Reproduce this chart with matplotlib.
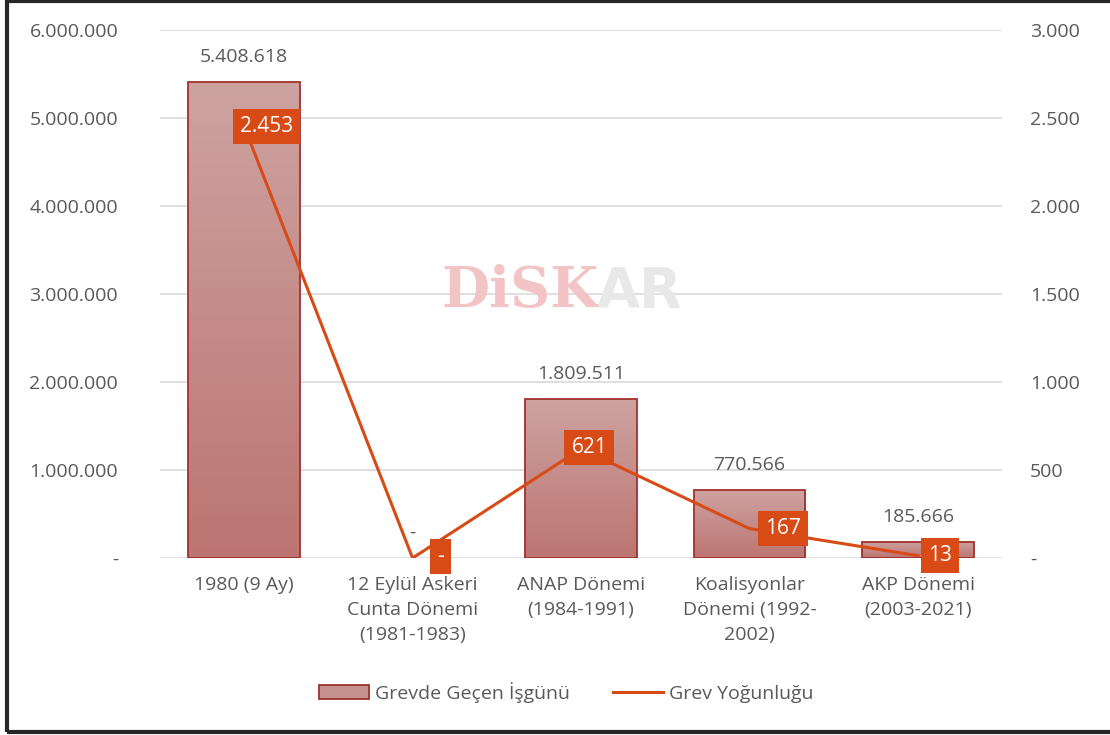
import numpy as np
import matplotlib.pyplot as plt
from matplotlib.patches import Rectangle
from matplotlib.lines import Line2D
from matplotlib.colors import LinearSegmentedColormap

plt.rcParams['font.family'] = ['Open Sans', 'DejaVu Sans']

categories = ['1980 (9 Ay)', '12 Eylül Askeri\nCunta Dönemi\n(1981-1983)',
              'ANAP Dönemi\n(1984-1991)', 'Koalisyonlar\nDönemi (1992-\n2002)',
              'AKP Dönemi\n(2003-2021)']
isgunu = [5408618, 0, 1809511, 770566, 185666]
yogunluk = [2453, 0, 621, 167, 13]

left_ticks = [0, 1000000, 2000000, 3000000, 4000000, 5000000, 6000000]
right_ticks = [0, 500, 1000, 1500, 2000, 2500, 3000]

GRAY = '#595959'
ORANGE = '#D84B16'
EDGE = '#A2302C'
FS = 14


def fmt(v):
    if v == 0:
        return '-'
    return '{:,}'.format(int(v)).replace(',', '.')


fig = plt.figure(figsize=(11.1, 7.35), dpi=100)
ax = fig.add_axes([0.144, 0.2408, 0.759, 0.7184])
ax2 = ax.twinx()

x = np.arange(len(categories))
width = 0.66
cmap = LinearSegmentedColormap.from_list('bar', ['#BC7572', '#CDA3A1'])
grad = np.linspace(0, 1, 256).reshape(-1, 1)
bars = ax.bar(x, isgunu, width, color='none', edgecolor=EDGE, linewidth=1.3, zorder=3)
for b in bars:
    h = b.get_height()
    if h <= 0:
        b.set_edgecolor('none')
        continue
    x0 = b.get_x()
    im = ax.imshow(grad, extent=[x0, x0 + width, 0, h], origin='lower',
                   cmap=cmap, aspect='auto', zorder=2)
    im.set_clip_path(b)

for xi, v in zip(x, isgunu):
    ax.annotate(fmt(v), (xi, v), xytext=(0, 18), textcoords='offset points',
                ha='center', va='center', fontsize=FS, color=GRAY)

ax.set_xlim(-0.5, 4.5)
ax.set_ylim(0, 6000000)
ax.set_yticks(left_ticks)
ax.set_yticklabels([fmt(t) for t in left_ticks])
ax.set_xticks(x)
ax.set_xticklabels(categories, fontsize=FS, color=GRAY, linespacing=1.5)
ax.tick_params(axis='both', length=0, labelsize=FS, labelcolor=GRAY)
ax.tick_params(axis='y', pad=30)
ax.tick_params(axis='x', pad=13)
ax.grid(axis='y', color='#D9D9D9', linewidth=1.2, zorder=0)
ax.set_axisbelow(True)
for s in ax.spines.values():
    s.set_visible(False)

ax2.plot(x, yogunluk, color=ORANGE, linewidth=2.2, zorder=4)
ax2.set_ylim(0, 3000)
ax2.set_yticks(right_ticks)
ax2.set_yticklabels([fmt(t) for t in right_ticks])
ax2.tick_params(axis='y', length=0, labelsize=FS, labelcolor=GRAY, pad=20)
for s in ax2.spines.values():
    s.set_visible(False)

offsets = [(16, 0), (20, 1), (6, 1), (24, 0), (16, 0)]
for xi, v, off in zip(x, yogunluk, offsets):
    ax2.annotate(fmt(v), (xi, v), xytext=off, textcoords='offset points',
                 ha='center', va='center', fontsize=FS + 1, color='white', zorder=6,
                 bbox=dict(boxstyle='square,pad=0.34', fc=ORANGE, ec='none'))

# watermark
fig.text(0.540, 0.603, 'DiSK', fontsize=40, fontweight='bold', family='DejaVu Serif',
         color='#F2C4C6', ha='right', va='center', zorder=0)
fig.text(0.538, 0.603, 'AR', fontsize=40, fontweight='bold', family='DejaVu Sans',
         color='#E8E8E8', ha='left', va='center', zorder=0)

handles = [Rectangle((0, 0), 1, 1, fc='#C4918E', ec=EDGE, lw=1.3),
           Line2D([0], [0], color=ORANGE, lw=2.2)]
fig.legend(handles, ['Grevde Geçen İşgünü', 'Grev Yoğunluğu'], loc='center',
           bbox_to_anchor=(0.51, 0.058), ncol=2, frameon=False, fontsize=FS,
           labelcolor=GRAY, handlelength=2.6, handletextpad=0.3, columnspacing=2.2)

# outer frame
fig.patches.append(Rectangle((0.0065, 0.004), 1.2, 0.994, transform=fig.transFigure,
                             fill=False, ec='#262626', lw=3))

fig.savefig('out.png', dpi=100)
